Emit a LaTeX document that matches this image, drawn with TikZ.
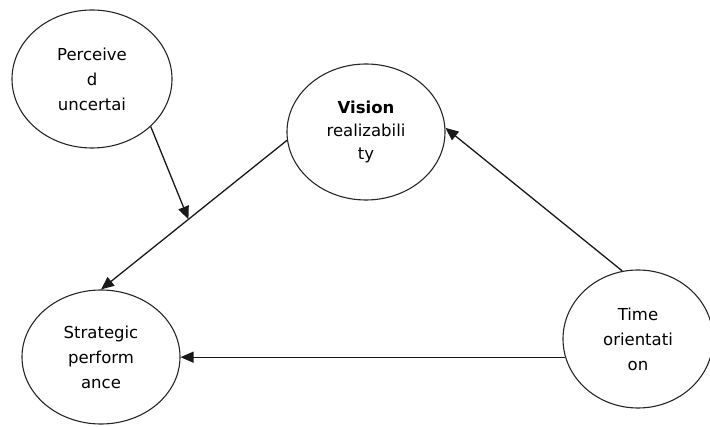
\documentclass[tikz,border=0pt]{standalone}
\usepackage{fontspec}
\setmainfont{DejaVu Sans}
\usepackage{tikz}
\usetikzlibrary{arrows.meta,positioning,shapes.geometric,calc}

\begin{document}
\begin{tikzpicture}[x=1pt, y=1pt,
    construct/.style={ellipse, draw=black!85, line width=1.1pt, align=center,
                      inner sep=0pt, font=\fontsize{16.5}{25}\selectfont},
    path/.style={-{Triangle[length=13pt, width=11pt]}, black!90, line width=1.3pt}]
\useasboundingbox (0,0) rectangle (710,426);

% Constructs
\node[construct, minimum width=160, minimum height=138]
      (perc) at (92,347) {Perceive\\d\\uncertai};
\node[construct, minimum width=158, minimum height=136, font=\fontsize{16.5}{23}\selectfont]
      (vis) at (366,294) {\textbf{Vision}\\realizabili\\ty};
\node[construct, minimum width=158, minimum height=134]
      (strat) at (101,69) {Strategic\\perform\\ance};
\node[construct, minimum width=150, minimum height=138]
      (time) at (638,87) {Time\\orientati\\on};

% Paths
\coordinate (hit) at ($(vis.186)!0.53!(strat.north)$);
\draw[path] (vis.186) -- (strat.north);
\draw[path] (perc.321) -- (hit);
\draw[path] (time.103) -- (vis.3);
\draw[path] (time.194) -- (time.194 -| strat.east);
\end{tikzpicture}
\end{document}
